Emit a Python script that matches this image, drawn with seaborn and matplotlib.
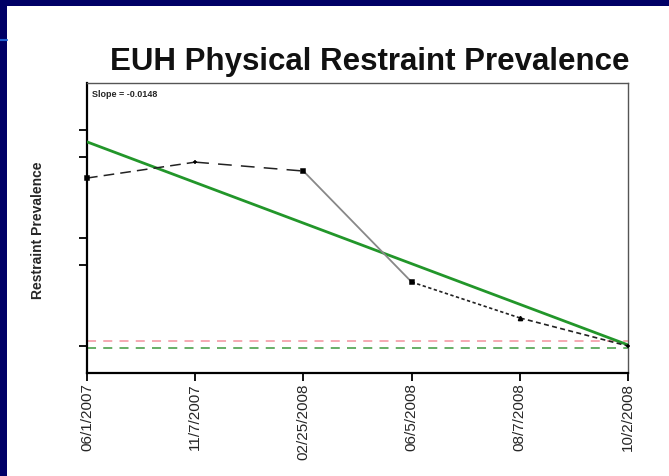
import matplotlib
matplotlib.use("Agg")
import matplotlib.pyplot as plt
import seaborn as sns
import pandas as pd
from matplotlib.patches import Rectangle
from matplotlib.lines import Line2D

# ---- data (arbitrary units) ----
dates = ["06/1/2007", "11/7/2007", "02/25/2008", "06/5/2008", "08/7/2008", "10/2/2008"]
prevalence = [7.22, 7.81, 7.48, 3.37, 2.04, 1.00]
trend_start = 8.56
trend_end = 1.04
pink_ref = 1.19
green_ref = 0.93
ytick_vals = [1, 4, 5, 8, 9]
slope_text = "Slope = -0.0148"

sns.set_style("white")
plt.rcParams["font.family"] = ["Liberation Sans", "DejaVu Sans"]

fig = plt.figure(figsize=(6.69, 4.76), dpi=100)
fig.patch.set_facecolor("#000066")
W, H = 669, 476
fig.patches.append(Rectangle((7 / W, 0), 1 - 7 / W, 1 - 6 / H, transform=fig.transFigure,
                             facecolor="white", edgecolor="none", zorder=-10))
fig.lines.append(Line2D([0, 7 / W], [1 - 40 / H, 1 - 40 / H], transform=fig.transFigure,
                        color="#1f5fd0", lw=1.5))

ax = fig.add_axes([87 / W, 1 - 373 / H, (628 - 87) / W, (373 - 83) / H])
ax.set_facecolor("white")

x = list(range(len(dates)))
df = pd.DataFrame({"x": x, "y": prevalence})

# reference dashed lines
ax.axhline(pink_ref, color="#f5a3ad", lw=1.3, ls=(0, (5, 4)), zorder=1)
ax.axhline(green_ref, color="#5aa85a", lw=1.3, ls=(0, (5, 4)), zorder=1)

# trend line
tdf = pd.DataFrame({"x": [x[0], x[-1]], "y": [trend_start, trend_end]})
sns.lineplot(data=tdf, x="x", y="y", ax=ax, color="#22962a", lw=2.0, zorder=3)

# segment styles
seg_styles = [
    dict(color="#222222", ls=(0, (7, 4)), lw=1.1),
    dict(color="#222222", ls=(0, (9, 6)), lw=1.1),
    dict(color="#888888", ls="-", lw=1.3),
    dict(color="#222222", ls=(0, (2, 1.5)), lw=1.2),
    dict(color="#222222", ls=(0, (3, 2)), lw=1.2),
]
for i, st in enumerate(seg_styles):
    sdf = df.iloc[i:i + 2]
    sns.lineplot(data=sdf, x="x", y="y", ax=ax, color=st["color"],
                 linestyle=st["ls"], lw=st["lw"], zorder=4)

markers = ["s", "+", "s", "s", "^", "+"]
for xi, yi, m in zip(x, prevalence, markers):
    ax.plot([xi], [yi], marker=m, color="black", ms=3, mew=1.1, ls="none",
            clip_on=False, zorder=5)

ax.set_xlim(0, 5)
ax.set_ylim(0, 290 / 27)
ax.set_xticks(x)
ax.set_xticklabels(dates, rotation=90, fontsize=11)
ax.set_yticks(ytick_vals)
ax.set_yticklabels([])
ax.set_xlabel("")
ax.set_ylabel("")
ax.tick_params(axis="both", direction="out", length=6, width=1.3, color="black",
               bottom=True, left=True, pad=1.5)

for s in ["left", "bottom"]:
    ax.spines[s].set_color("black")
    ax.spines[s].set_linewidth(1.6)
for s in ["top", "right"]:
    ax.spines[s].set_color("#555555")
    ax.spines[s].set_linewidth(1.0)

ax.text(0.01, 0.975, slope_text, transform=ax.transAxes, fontsize=6.5,
        fontweight="bold", va="top", ha="left")

fig.text(370 / W, 1 - 62 / H, "EUH Physical Restraint Prevalence", fontsize=22.5,
         fontweight="bold", ha="center", va="center", color="#111111")
fig.text(38 / W, 1 - 230 / H, "Restraint Prevalence", rotation=90, fontsize=10,
         fontweight="bold", ha="center", va="center")

fig.savefig("out.png", dpi=100, facecolor=fig.get_facecolor())
